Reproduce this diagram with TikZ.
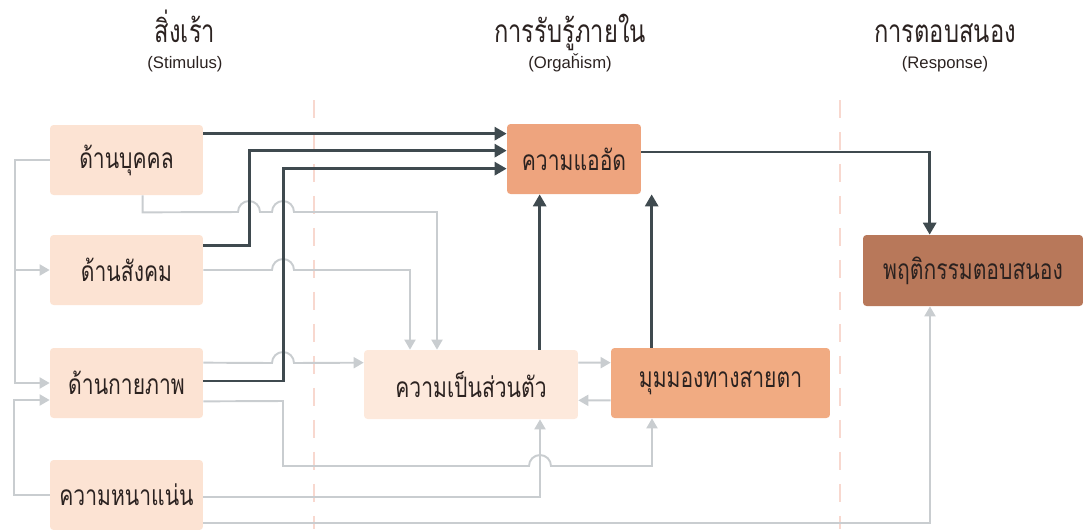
\documentclass[tikz,border=0pt]{standalone}
\usepackage{fontspec}
\setmainfont{Liberation Sans}
\newfontfamily\thai[Script=Thai,FakeStretch=0.75]{Loma}
\usepackage{xcolor}
\usetikzlibrary{arrows.meta,positioning,calc}
\definecolor{stPeach}{HTML}{FCE3D3}
\definecolor{stPale}{HTML}{FDE9DC}
\definecolor{stSalmon}{HTML}{EEA47E}
\definecolor{stApricot}{HTML}{F1AB82}
\definecolor{stBrown}{HTML}{B8785A}
\definecolor{stInk}{HTML}{3F4A4F}
\definecolor{stGrey}{HTML}{C9CDD0}
\definecolor{stDash}{HTML}{F8D8CF}
\definecolor{stText}{HTML}{2B2220}
\tikzset{
  stage box/.style={rounded corners=2pt,inner sep=0pt,text=stText,
    font=\thai\fontsize{16}{18}\selectfont,minimum height=1.4cm},
  stim box/.style={stage box,fill=stPeach,minimum width=3.06cm},
  head thai/.style={font=\thai\fontsize{18}{20}\selectfont,text=stText,inner sep=0pt,anchor=base},
  head latin/.style={font=\fontsize{9.5}{11}\selectfont,text=stText,inner sep=0pt,anchor=base},
  dark arrow/.style={-{Triangle[length=2.4mm,width=2.6mm]},line width=1.6pt,draw=stInk},
  grey arrow/.style={-{Triangle[length=2mm,width=2.2mm]},line width=1.1pt,draw=stGrey},
  zone line/.style={line width=1.7pt,draw=stDash,dash pattern=on 0.36cm off 0.28cm}
}
\begin{document}
\begin{tikzpicture}[x=0.02cm,y=-0.02cm]
\useasboundingbox (0,0) rectangle (1083,529);
% column separators
\draw[zone line] (314,100) -- (314,529);
\draw[zone line] (840,100) -- (840,529);
% headers
\node[head thai] (hStim) at (185,42) {สิ่งเร้า};
\node[head latin] (hStimEn) at (185,68) {(Stimulus)};
\node[head thai] (hOrg) at (570,42) {การรับรู้ภายใน};
\node[head latin] (hOrgEn) at (570,68) {(Orgaȟism)};
\node[head thai] (hResp) at (945,42) {การตอบสนอง};
\node[head latin] (hRespEn) at (945,68) {(Response)};
% stimulus boxes
\node[stim box] (person) at (126.5,160) {ด้านบุคคล};
\node[stim box] (social) at (126.5,270) {ด้านสังคม};
\node[stim box] (physical) at (126.5,383) {ด้านกายภาพ};
\node[stim box] (density) at (126.5,495) {ความหนาแน่น};
% organism boxes
\node[stage box,fill=stSalmon,minimum width=2.68cm] (crowd) at (574,159) {ความแออัด};
\node[stage box,fill=stPale,minimum width=4.28cm,minimum height=1.38cm] (privacy) at (471,384.5) {ความเป็นส่วนตัว};
\node[stage box,fill=stApricot,minimum width=4.38cm] (view) at (720.5,383) {มุมมองทางสายตา};
% response box
\node[stage box,fill=stBrown,minimum width=4.4cm,minimum height=1.42cm] (response) at (973,270.5) {พฤติกรรมตอบสนอง};
% grey links
\draw[grey arrow] (person.west) -- ++(-35,0) |- (social.west);
\draw[grey arrow] (person.west) -- ++(-35,0) |- (physical.west);
\draw[grey arrow] (density.west) -- ++(-36,0) |- ($(physical.west)+(0,17)$);
\draw[grey arrow] ($(person.south west)+(93,0)$) -- ++(0,17) -- (238,212)
  arc[start angle=180,end angle=360,radius=11] -- (272,212)
  arc[start angle=180,end angle=360,radius=11] -- (437,212) coordinate (c1) -- (c1 |- privacy.north);
\draw[grey arrow] (social.east) -- (272,270)
  arc[start angle=180,end angle=360,radius=11] -- (410,270) coordinate (c2) -- (c2 |- privacy.north);
\draw[grey arrow] ($(physical.north east)+(0,15)$) -- (272,363)
  arc[start angle=180,end angle=360,radius=11] -- ($(privacy.north west)+(0,13)$);
\draw[grey arrow] ($(physical.south east)+(0,-17)$) -- (283,401) -- (283,466) -- (529,466)
  arc[start angle=180,end angle=360,radius=11] -- (652,466) coordinate (c3) -- (c3 |- view.south);
\draw[grey arrow] ($(density.east)+(0,2)$) -- (540,497) coordinate (c4) -- (c4 |- privacy.south);
\draw[grey arrow] ($(density.east)+(0,28)$) -- (930,523) coordinate (c5) -- (c5 |- response.south);
\draw[grey arrow] ($(privacy.north east)+(0,13)$) -- ($(view.north west)+(0,15)$);
\draw[grey arrow] ($(view.south west)+(0,-18)$) -- ($(privacy.south east)+(0,-19)$);
% dark links
\draw[dark arrow] ($(person.north east)+(0,9)$) -- ($(crowd.north west)+(0,10)$);
\draw[dark arrow] ($(social.north east)+(0,11)$) -- ++(46,0) |- ($(crowd.north west)+(0,27)$);
\draw[dark arrow] ($(physical.east)+(0,-2)$) -- ++(80,0) |- ($(crowd.north west)+(0,45)$);
\draw[dark arrow] ($(crowd.east)+(0,-7)$) -| ($(response.north west)+(67,0)$);
\draw[dark arrow] ($(privacy.north west)+(176,0)$) coordinate (d1) -- (d1 |- crowd.south);
\draw[dark arrow] ($(view.north west)+(41,0)$) coordinate (d2) -- (d2 |- crowd.south);
\end{tikzpicture}
\end{document}
